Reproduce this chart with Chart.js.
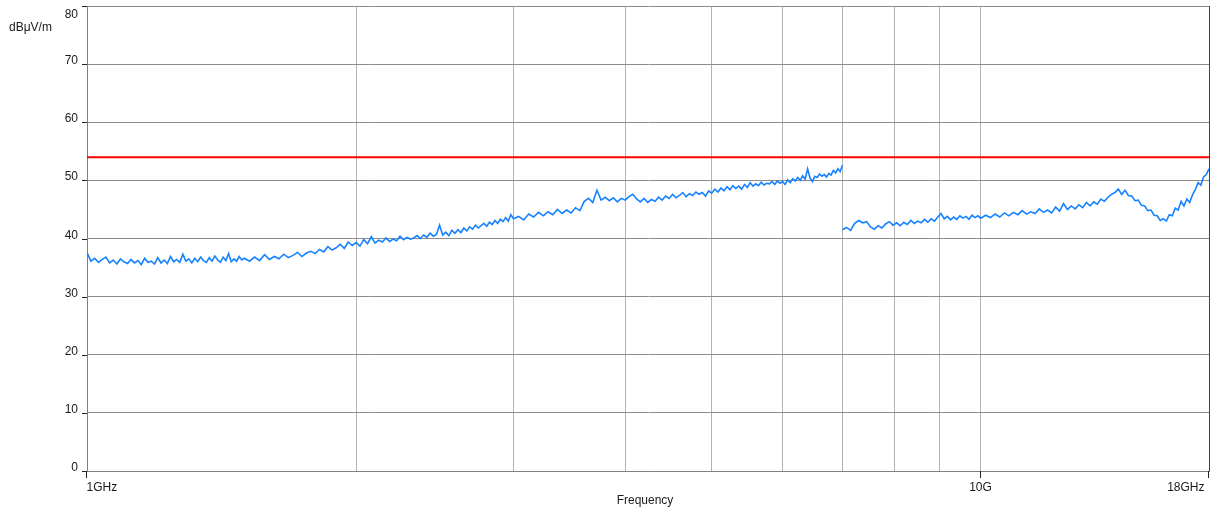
<!DOCTYPE html>
<html>
<head>
<meta charset="utf-8">
<script src="https://cdn.jsdelivr.net/npm/chart.js@4/dist/chart.umd.min.js"></script>
<style>
  html, body { margin: 0; padding: 0; background: #fff; }
  #wrap { width: 1213px; height: 513px; position: relative; }
</style>
</head>
<body>
<div id="wrap"><canvas id="chart"></canvas></div>
<script>
// sweep 1 GHz .. 7 GHz (MHz)
const freqLow = [
  1000,1010,1020,1030,1040,1050,1060,1070,1080,1090,
  1100,1110,1120,1130,1140,1150,1160,1170,1180,1190,
  1200,1210,1220,1230,1240,1250,1260,1270,1280,1290,
  1300,1310,1320,1330,1340,1350,1360,1370,1380,1390,
  1400,1410,1420,1430,1440,1450,1460,1470,1480,1490,
  1500,1520,1540,1560,1580,1600,1620,1640,1660,1680,
  1700,1720,1740,1760,1780,1800,1820,1840,1860,1880,
  1900,1920,1940,1960,1980,2000,2020,2040,2060,2080,
  2100,2120,2140,2160,2180,2200,2220,2240,2260,2280,
  2300,2320,2340,2360,2380,2400,2420,2440,2460,2480,
  2500,2520,2540,2560,2580,2600,2620,2640,2660,2680,
  2700,2720,2740,2760,2780,2800,2820,2840,2860,2880,
  2900,2920,2940,2960,2980,3000,3040,3080,3120,3160,
  3200,3240,3280,3320,3360,3400,3440,3480,3520,3560,
  3600,3640,3680,3720,3760,3800,3840,3880,3920,3960,
  4000,4040,4080,4120,4160,4200,4240,4280,4320,4360,
  4400,4440,4480,4520,4560,4600,4640,4680,4720,4760,
  4800,4840,4880,4920,4960,5000,5040,5080,5120,5160,
  5200,5240,5280,5320,5360,5400,5440,5480,5520,5560,
  5600,5640,5680,5720,5760,5800,5840,5880,5920,5960,
  6000,6040,6080,6120,6160,6200,6240,6280,6320,6360,
  6400,6440,6480,6520,6560,6600,6640,6680,6720,6760,
  6800,6840,6880,6920,6960,7000
];
const levelLow = [
  37.6,36.1,36.6,35.9,36.4,36.8,35.8,36.3,35.6,36.5,
  36.0,35.7,36.4,35.8,36.2,35.5,36.6,35.9,36.1,35.6,
  36.7,35.8,36.3,35.7,36.9,36.0,36.4,35.9,37.3,36.1,
  36.5,35.8,36.6,36.0,36.8,36.2,35.9,36.7,36.1,37.0,
  36.3,35.9,36.8,36.2,37.4,36.0,36.5,36.1,36.9,36.3,
  36.6,36.1,36.8,36.2,37.2,36.4,36.9,36.5,37.3,36.7,
  37.1,37.6,36.9,37.5,37.8,37.4,38.1,37.7,38.6,38.0,
  38.4,39.0,38.3,39.4,38.8,39.3,38.7,39.8,39.1,40.3,
  39.2,39.7,39.4,40.1,39.5,39.9,39.6,40.4,39.8,40.2,
  39.9,40.1,40.5,40.0,40.6,40.2,40.9,40.4,40.7,42.3,
  40.6,41.1,40.5,41.4,40.9,41.5,41.0,41.8,41.3,42.0,
  41.6,42.3,41.8,42.2,42.6,42.1,42.8,42.4,43.1,42.6,
  43.3,42.9,43.6,43.0,44.1,43.4,43.8,43.2,44.2,43.7,
  44.5,43.9,44.6,44.1,45.0,44.3,44.9,44.4,45.3,44.8,
  46.4,46.9,46.2,48.3,46.6,47.1,46.5,47.0,46.3,46.9,
  46.6,47.2,47.6,46.8,46.3,46.9,46.2,46.7,46.4,47.1,
  46.6,47.3,46.9,47.6,47.0,47.4,47.9,47.2,47.7,47.4,
  48.0,47.6,47.9,47.3,48.2,47.8,48.5,48.0,48.7,48.2,
  48.9,48.4,49.1,48.6,49.0,48.5,49.3,48.8,49.6,49.0,
  49.4,49.1,49.7,49.2,49.5,49.4,49.8,49.3,49.9,49.5,
  49.8,49.3,50.1,49.6,50.3,49.9,50.5,50.0,50.8,50.2,
  52.0,50.4,49.8,50.7,50.5,51.1,50.7,51.0,50.6,51.2,
  50.9,51.7,51.3,52.0,51.5,52.6
];

// sweep 7 GHz .. 18 GHz (MHz)
const freqHigh = [
  7000,7075,7150,7225,7300,7375,7450,7525,7600,7675,
  7750,7825,7900,7975,8050,8125,8200,8275,8350,8425,
  8500,8575,8650,8725,8800,8875,8950,9025,9100,9175,
  9250,9325,9400,9475,9550,9625,9700,9775,9850,9925,
  10000,10125,10250,10375,10500,10625,10750,10875,11000,11125,
  11250,11375,11500,11625,11750,11875,12000,12125,12250,12375,
  12500,12625,12750,12875,13000,13125,13250,13375,13500,13625,
  13750,13875,14000,14125,14250,14375,14500,14625,14750,14875,
  15000,15125,15250,15375,15500,15625,15750,15875,16000,16125,
  16250,16375,16500,16625,16750,16875,17000,17125,17250,17375,
  17500,17625,17750,17875,18000
];
const levelHigh = [
  41.5,41.9,41.4,42.6,43.1,42.7,42.9,42.0,41.6,42.2,
  41.8,42.5,42.9,42.3,42.7,42.2,42.8,42.4,43.1,42.6,
  43.0,42.7,43.3,42.8,43.4,43.0,43.7,44.3,43.4,43.8,
  43.2,43.7,43.3,43.9,43.5,43.8,43.3,44.0,43.6,43.9,
  43.5,44.0,43.6,44.2,43.7,44.4,43.9,44.5,44.1,44.8,
  44.2,44.6,44.3,45.1,44.5,44.9,44.4,45.4,44.7,46.0,
  45.0,45.6,45.1,45.8,45.3,46.2,45.6,46.3,45.9,46.8,
  46.4,47.1,47.6,47.9,48.5,47.6,48.3,47.4,47.3,46.5,
  46.6,45.7,45.6,44.8,44.9,44.0,43.9,43.1,43.4,43.0,
  44.1,43.9,45.2,44.9,46.4,45.6,46.8,46.2,47.5,48.4,
  49.6,49.2,50.6,51.0,52.0
];

const limitFreq = [1000, 18000];
const limitLevel = [54, 54];

const xGridFreqs = [1000,2000,3000,4000,5000,6000,7000,8000,9000,10000,18000];
const xLabels = [[1000,'1GHz','left'],[10000,'10G','center'],[18000,'18GHz','right']];
const yTicks = [0,10,20,30,40,50,60,70,80];

const pts = (xs, ys) => xs.map((x, i) => ({x: x, y: ys[i]}));

const labelPlugin = {
  id: 'labels',
  afterDraw(chart) {
    const ctx = chart.ctx;
    const xs = chart.scales.x, ys = chart.scales.y;
    const area = chart.chartArea;
    ctx.save();
    ctx.font = '12px "Liberation Sans", Arial, sans-serif';
    ctx.fillStyle = '#1a1a1a';
    ctx.strokeStyle = '#222';
    ctx.lineWidth = 1;
    // y labels and tick marks
    ctx.textAlign = 'right';
    ctx.textBaseline = 'middle';
    yTicks.forEach(v => {
      const y = Math.round(ys.getPixelForValue(v)) + 0.5;
      ctx.beginPath();
      ctx.moveTo(area.left - 5, y);
      ctx.lineTo(area.left, y);
      ctx.stroke();
      const ly = v === 80 ? y + 8 : y - 4;
      ctx.fillText(String(v), area.left - 9, ly);
    });
    // x labels and tick marks
    xLabels.forEach(([v, t, al]) => {
      const x = Math.round(xs.getPixelForValue(v)) - 0.5;
      ctx.beginPath();
      ctx.moveTo(x, area.bottom);
      ctx.lineTo(x, area.bottom + 7);
      ctx.stroke();
      ctx.textAlign = al;
      const lx = al === 'right' ? x - 4 : x;
      ctx.fillText(t, lx, area.bottom + 17);
    });
    // axis titles
    ctx.textAlign = 'center';
    ctx.fillText('Frequency', 645, 501);
    ctx.textAlign = 'left';
    ctx.fillText('dBμV/m', 9, 28);
    ctx.restore();
  }
};

new Chart(document.getElementById('chart'), {
  type: 'line',
  data: {
    datasets: [
      {data: pts(limitFreq, limitLevel), borderColor: '#ff0000', borderWidth: 2, pointRadius: 0},
      {data: pts(freqLow, levelLow), borderColor: '#1682ff', borderWidth: 1.6, pointRadius: 0},
      {data: pts(freqHigh, levelHigh), borderColor: '#1682ff', borderWidth: 1.6, pointRadius: 0}
    ]
  },
  options: {
    responsive: true,
    maintainAspectRatio: false,
    animation: false,
    layout: {padding: {top: 6, right: 4, left: 0, bottom: 0}},
    plugins: {legend: {display: false}, tooltip: {enabled: false}},
    scales: {
      x: {
        type: 'logarithmic',
        min: 1000,
        max: 18000,
        afterBuildTicks: s => { s.ticks = xGridFreqs.map(v => ({value: v})); },
        afterFit: s => { s.height = 42; },
        ticks: {display: false},
        grid: {
          color: c => (c.tick && c.tick.value === 18000) ? '#444' : '#b2b2b2',
          drawTicks: false
        },
        border: {color: '#808080'}
      },
      y: {
        min: 0,
        max: 80,
        afterBuildTicks: s => { s.ticks = yTicks.map(v => ({value: v})); },
        afterFit: s => { s.width = 87; },
        ticks: {display: false},
        grid: {color: '#8c8c8c', drawTicks: false},
        border: {color: '#808080'}
      }
    }
  },
  plugins: [labelPlugin]
});
</script>
</body>
</html>
